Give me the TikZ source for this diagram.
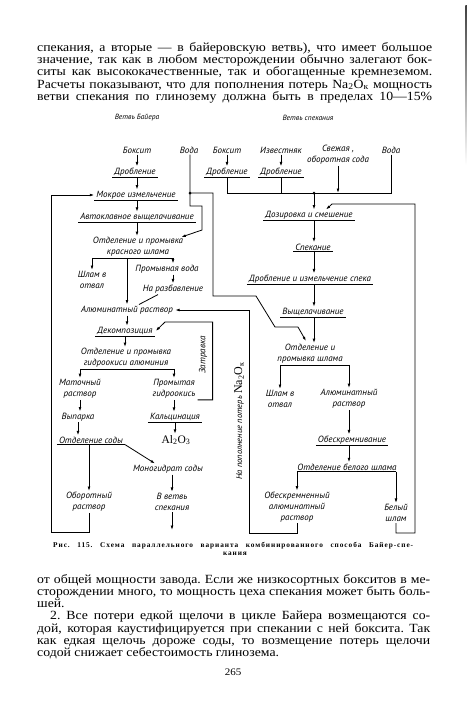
\documentclass[tikz,border=0pt]{standalone}
\usepackage{fontspec}
\setmainfont{Liberation Serif}
\newfontfamily\bodyfont{Liberation Serif}[FakeStretch=1.1]
\newfontfamily\capfont{Liberation Serif}[LetterSpace=13]
\newfontfamily\dfont{PT Sans}[FakeStretch=1.0]
\usetikzlibrary{arrows.meta}
\tikzset{
  lab/.style={font=\dfont\itshape\fontsize{9}{10.8}\selectfont, inner xsep=2pt, inner ysep=1.2pt, align=center},
  hdr/.style={font=\dfont\itshape\fontsize{7.5}{8}\selectfont, inner sep=1pt},
  ln/.style={line width=0.8pt},
  arr/.style={ln,-{Latex[length=4.5pt,width=2.8pt]}},
  body/.style={font=\bodyfont\frenchspacing\fontsize{12.5}{12.5}\selectfont, inner sep=0pt, anchor=base west},
  captxt/.style={font=\capfont\bfseries\fontsize{7.3}{8}\selectfont, inner sep=0pt},
  serif/.style={font=\fontsize{11.5}{12}\selectfont, inner sep=1pt},
  dotj/.style={circle, fill, inner sep=0pt, minimum size=3pt},
}
\newcommand\ulin[1]{\draw[ln] (#1.south west) -- (#1.south east);}
\begin{document}
\begin{tikzpicture}[x=1pt,y=1pt]
\useasboundingbox (0,0) rectangle (474,-724);
\fill[white] (0,0) rectangle (474,-724);
% page-edge shadow of the scan
\shade[top color=black!75, bottom color=white] (465.4,-5) rectangle (466.8,-165);

% ---- top text
\node[body] (t1) at (37,-51.5) {\makebox[395pt][s]{спекания, а вторые — в байеровскую ветвь), что имеет большое}};
\node[body] (t2) at (37,-63.7) {\makebox[395pt][s]{значение, так как в любом месторождении обычно залегают бок-}};
\node[body] (t3) at (37,-75.9) {\makebox[395pt][s]{ситы как высококачественные, так и обогащенные кремнеземом.}};
\node[body] (t4) at (37,-88.1) {\makebox[395pt][s]{Расчеты показывают, что для пополнения потерь Na\textsubscript{2}O\textsubscript{к} мощность}};
\node[body] (t5) at (37,-100.3) {\makebox[395pt][s]{ветви спекания по глинозему должна быть в пределах 10—15\%}};

% ---- headers
\node[hdr] (hb) at (137,-118) {Ветвь Байера};
\node[hdr] (hs) at (308,-118) {Ветвь спекания};

% ---- Bayer branch
\node[lab] (b1) at (137,-150) {Боксит};
\node[lab] (w1) at (189,-150) {Вода};
\node[lab] (d1) at (135,-172) {Дробление};
\node[lab] (m1) at (136,-195) {Мокрое измельчение};
\node[lab] (a1) at (137,-217) {Автоклавное выщелачивание};
\node[lab] (o1) at (138,-247) {Отделение и промывка\\красного шлама};
\node[lab] (sh1) at (92,-280) {Шлам в\\отвал};
\node[lab] (pv) at (167,-269) {Промывная вода};
\node[lab] (nr) at (173,-289) {На разбавление};
\node[lab] (ar) at (127,-310) {Алюминатный раствор};
\node[lab] (dk) at (125,-331) {Декомпозиция};
\node[lab] (o2) at (126,-358) {Отделение и промывка\\гидроокиси алюминия};
\node[lab] (mr) at (80,-389) {Маточный\\раствор};
\node[lab] (pg) at (174,-389) {Промытая\\гидроокись};
\node[lab] (vp) at (78,-417) {Выпарка};
\node[lab] (kc) at (175,-417) {Кальцинация};
\node[serif] (al) at (176,-440) {Al\textsubscript{2}O\textsubscript{3}};
\node[lab] (os) at (91,-440) {Отделение соды};
\node[lab] (ms) at (168,-469) {Моногидрат соды};
\node[lab] (or) at (89,-502) {Оборотный\\раствор};
\node[lab] (vs) at (172,-502) {В ветвь\\спекания};
\node[lab, rotate=90] (zt) at (203,-355) {Затравка};
\node[rotate=90, inner sep=1pt] (na) at (239,-421) {{\dfont\itshape\fontsize{8.5}{9}\selectfont На пополнение потерь }{\fontsize{12}{12}\selectfont Na\textsubscript{2}O\textsubscript{к}}};

% ---- Sintering branch
\node[lab] (b2) at (227,-150) {Боксит};
\node[lab] (d2) at (227,-172) {Дробление};
\node[lab] (iz) at (281,-150) {Известняк};
\node[lab] (d3) at (281,-172) {Дробление};
\node[lab] (sd) at (338,-155) {Свежая ,\\оборотная сода};
\node[lab] (w2) at (391,-150) {Вода};
\node[lab] (ds) at (309,-215) {Дозировка и смешение};
\node[lab] (sp) at (313,-247) {Спекание};
\node[lab] (di) at (310,-279) {Дробление и измельчение спека};
\node[lab] (vy) at (313,-312) {Выщелачивание};
\node[lab] (o3) at (310,-354) {Отделение и\\промывка шлама};
\node[lab] (sh2) at (280,-399) {Шлам в\\отвал};
\node[lab] (ar2) at (349,-399) {Алюминатный\\раствор};
\node[lab] (ob) at (352,-440) {Обескремнивание};
\node[lab] (ob2) at (347,-467) {Отделение белого шлама};
\node[lab] (orr) at (297,-507) {Обескремненный\\алюминатный\\раствор};
\node[lab] (bs) at (396,-513) {Белый\\шлам};

% underlines
\ulin{d1}\ulin{m1}\ulin{a1}\ulin{dk}\ulin{kc}\ulin{os}
\ulin{d2}\ulin{d3}\ulin{ds}\ulin{sp}\ulin{di}\ulin{vy}\ulin{ob}

% ---- Bayer connectors
\draw[arr] (b1.south) -- (b1.south |- d1.north);
\draw[arr] (b1.south |- d1.south) -- (b1.south |- m1.north);
\draw[arr] (b1.south |- m1.south) -- (b1.south |- a1.north);
\draw[arr] (b1.south |- a1.south) -- (b1.south |- o1.north);
\coordinate (jw) at (190,-193);
\draw[arr] (w1.south -| jw) -- (190,-206) -- (202,-206) -- (202,-230) -- ([xshift=-4pt,yshift=-1pt]o1.north east);
\draw[ln] (jw) -- (213,-193) -- (213,-296) -- (256,-296) -- (275,-327) -- (298,-327);
\draw[arr] (298,-327) -- ([xshift=-4pt,yshift=2pt]o3.north);
\node[dotj] at (jw) {};
\draw[arr] (or.south) |- (51,-532) -- (51,-195) -- (m1.west);
\draw[ln] (sh1.north |- o1.south) -- (nr.north |- o1.south);
\draw[arr] (sh1.north |- o1.south) -- (sh1.north);
\draw[arr] (nr.north |- o1.south) -- (nr.north |- pv.north);
\draw[arr] (ar.north |- o1.south) -- (ar.north);
\draw[arr] (nr.north |- pv.south) -- (nr.north);
\draw[ln] ([xshift=-15pt]nr.south) -- ([xshift=12pt]ar.north);
\draw[arr] (ar.south) -- (ar.south |- dk.north);
\draw[arr] (pg.south east) -- ++(15,0) |- (165,-322) -- ([xshift=1pt]dk.east);
\draw[arr] (dk.south) -- (dk.south |- o2.north);
\draw[ln] (mr.north |- o2.south) -- (pg.north |- o2.south);
\draw[arr] (mr.north |- o2.south) -- (mr.north);
\draw[arr] (pg.north |- o2.south) -- (pg.north);
\draw[arr] (mr.south) -- (mr.south |- vp.north);
\draw[arr] (pg.south) -- (pg.south |- kc.north);
\draw[arr] (kc.south) -- (kc.south |- al.north);
\draw[arr] (vp.south) -- (vp.south |- os.north);
\draw[arr] (or.north |- os.south) -- (or.north);
\draw[arr] (os.south east) -- ([xshift=-13pt]ms.north);
\draw[arr] (vs.north |- ms.south) -- (vs.north);
\draw[arr] (vs.south) -- ++(0,-18);
\draw[arr] (orr.south) |- (249,-533) -- (249,-310) -- (ar.east);

% ---- Sintering connectors
\coordinate (js) at (314,-193);
\draw[arr] (b2.south) -- (b2.south |- d2.north);
\draw[arr] (iz.south) -- (iz.south |- d3.north);
\draw[ln] (d2.south) |- (js);
\draw[ln] (d3.south) -- (d3.south |- js);
\draw[ln] (w2.south) |- (js);
\draw[arr] (sd.south) -- (sd.south |- js);
\draw[arr] (js) -- (js |- ds.north);
\node[dotj] at (js) {};
\draw[arr] (bs.south) |- (415,-533) -- (415,-204) -- (332,-204) -- ([xshift=17pt]ds.north);
\draw[arr] (js |- ds.south) -- (js |- sp.north);
\draw[arr] (js |- sp.south) -- (js |- di.north);
\draw[arr] (js |- di.south) -- (js |- vy.north);
\draw[arr] (js |- vy.south) -- (js |- o3.north);
\draw[ln] (sh2.north |- o3.south) -- (ar2.north |- o3.south);
\draw[arr] (sh2.north |- o3.south) -- (sh2.north);
\draw[arr] (ar2.north |- o3.south) -- (ar2.north);
\draw[arr] (ar2.south) -- (ar2.south |- ob.north);
\draw[arr] (ar2.south |- ob.south) -- (ar2.south |- ob2.north);
\draw[ln] (orr.north |- ob2.south) -- (bs.north |- ob2.south);
\draw[arr] (orr.north |- ob2.south) -- (orr.north);
\draw[arr] (bs.north |- ob2.south) -- (bs.north);

% ---- caption
\node[captxt, anchor=base west] (c1) at (53,-547.5) {\makebox[360pt][s]{Рис.\ 115.\ Схема\ параллельного\ варианта\ комбинированного\ способа\ Байер-спе-}};
\node[captxt, anchor=base] (c2) at (235,-555.5) {кания};

% ---- bottom text
\node[body] (u1) at (37,-583.5) {\makebox[393pt][s]{от общей мощности завода. Если же низкосортных бокситов в ме-}};
\node[body] (u2) at (37,-595.5) {\makebox[393pt][s]{сторождении много, то мощность цеха спекания может быть боль-}};
\node[body] (u3) at (37,-607.5) {шей.};
\node[body] (u4) at (50,-619.8) {\makebox[380pt][s]{2. Все потери едкой щелочи в цикле Байера возмещаются со-}};
\node[body] (u5) at (37,-632) {\makebox[393pt][s]{дой, которая каустифицируется при спекании с ней боксита. Так}};
\node[body] (u6) at (37,-644.2) {\makebox[393pt][s]{как едкая щелочь дороже соды, то возмещение потерь щелочи}};
\node[body] (u7) at (37,-656.4) {содой снижает себестоимость глинозема.};
\node[body, anchor=base, font=\bodyfont\fontsize{10}{10}\selectfont] (pn) at (233,-675) {265};
\end{tikzpicture}
\end{document}
